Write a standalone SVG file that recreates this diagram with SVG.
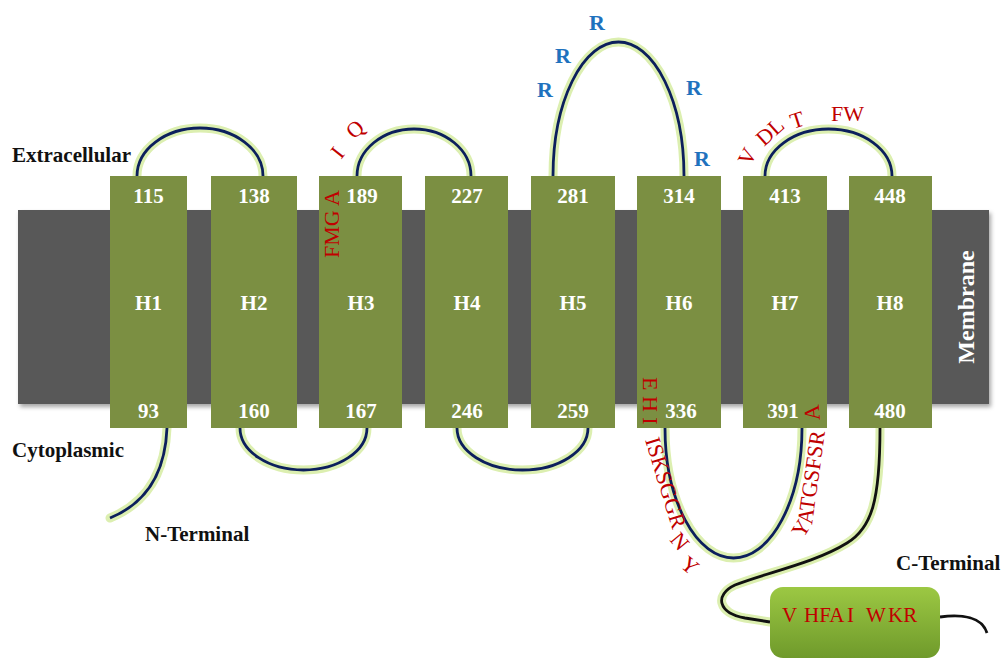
<svg xmlns="http://www.w3.org/2000/svg" width="1008" height="661" viewBox="0 0 1008 661">
<defs>
<linearGradient id="cbox" x1="0" y1="0" x2="0" y2="1">
<stop offset="0" stop-color="#9cc843"/>
<stop offset="1" stop-color="#6f9a2b"/>
</linearGradient>
<filter id="sh" x="-5%" y="-5%" width="110%" height="115%">
<feDropShadow dx="2" dy="3" stdDeviation="2" flood-color="#000" flood-opacity="0.35"/>
</filter>
</defs>
<style>
.helix{fill:#7b8f42}
.num{font-family:"Liberation Serif",serif;font-weight:bold;font-size:21px;fill:#ffffff;text-anchor:middle}
.lab{font-family:"Liberation Serif",serif;font-weight:bold;font-size:21px;fill:#111111}
.glow{fill:none;stroke:#dcefb0;stroke-width:9;stroke-linecap:round}
.line{fill:none;stroke:#0c1f5c;stroke-width:2.8}
.bline{fill:none;stroke:#111111;stroke-width:2.8}
.aa{font-family:"Liberation Serif",serif;font-size:22px;fill:#c00000;white-space:pre}
.rr{font-family:"Liberation Serif",serif;font-weight:bold;font-size:22px;fill:#1f72be}
</style>
<rect width="1008" height="661" fill="#ffffff"/>
<g id="membrane">
<rect x="18" y="210" width="971" height="194" fill="#595959" filter="url(#sh)"/>
<text x="968" y="307" class="num" transform="rotate(-90 968 307)" dominant-baseline="middle" style="font-size:24px">Membrane</text>
</g>
<g id="connectors">
<path class="glow" d="M137,176 A63,48 0 0 1 263,176"/>
<path class="line" d="M137,176 A63,48 0 0 1 263,176"/>
<path class="glow" d="M357,176 A57,47 0 0 1 471,176"/>
<path class="line" d="M357,176 A57,47 0 0 1 471,176"/>
<path class="glow" d="M553,176 A65.5,134 0 0 1 684,176"/>
<path class="line" d="M553,176 A65.5,134 0 0 1 684,176"/>
<path class="glow" d="M765,176 A63.5,47 0 0 1 892,176"/>
<path class="line" d="M765,176 A63.5,47 0 0 1 892,176"/>
<path class="glow" d="M240,428 A63.5,42 0 0 0 367,428"/>
<path class="line" d="M240,428 A63.5,42 0 0 0 367,428"/>
<path class="glow" d="M457,428 A65.5,42 0 0 0 588,428"/>
<path class="line" d="M457,428 A65.5,42 0 0 0 588,428"/>
<path class="glow" d="M665,428 A68.5,130 0 0 0 802,428"/>
<path class="line" d="M665,428 A68.5,130 0 0 0 802,428"/>
<path class="glow" d="M167,428 C165,478 142,505 110,518"/>
<path class="line" d="M167,428 C165,478 142,505 110,518"/>
<path class="glow" d="M880,428 C880,500 872,528 847,543 C815,563 765,573 735,585 C714,595 718,613 745,618 L770,622"/>
<path class="bline" d="M880,428 C880,500 872,528 847,543 C815,563 765,573 735,585 C714,595 718,613 745,618 L770,622"/>
<path class="bline" d="M940,617 C962,614 982,617 987,633"/>
</g>
<g id="H1"><rect class="helix" x="110" y="176" width="77" height="252"/>
<text class="num" x="148.5" y="203">115</text><text class="num" x="148.5" y="310">H1</text><text class="num" x="148.5" y="418">93</text></g>
<g id="H2"><rect class="helix" x="211" y="176" width="86" height="252"/>
<text class="num" x="254" y="203">138</text><text class="num" x="254" y="310">H2</text><text class="num" x="254" y="418">160</text></g>
<g id="H3"><rect class="helix" x="319" y="176" width="83" height="252"/>
<text class="num" x="362" y="203">189</text><text class="num" x="361" y="310">H3</text><text class="num" x="361" y="418">167</text></g>
<g id="H4"><rect class="helix" x="425" y="176" width="83" height="252"/>
<text class="num" x="467" y="203">227</text><text class="num" x="467" y="310">H4</text><text class="num" x="467" y="418">246</text></g>
<g id="H5"><rect class="helix" x="531" y="176" width="84" height="252"/>
<text class="num" x="573" y="203">281</text><text class="num" x="573" y="310">H5</text><text class="num" x="573" y="418">259</text></g>
<g id="H6"><rect class="helix" x="637" y="176" width="84" height="252"/>
<text class="num" x="679" y="203">314</text><text class="num" x="679" y="310">H6</text><text class="num" x="681" y="418">336</text></g>
<g id="H7"><rect class="helix" x="743" y="176" width="84" height="252"/>
<text class="num" x="785" y="203">413</text><text class="num" x="785" y="310">H7</text><text class="num" x="783" y="418">391</text></g>
<g id="H8"><rect class="helix" x="849" y="176" width="83" height="252"/>
<text class="num" x="890" y="203">448</text><text class="num" x="890" y="310">H8</text><text class="num" x="890" y="418">480</text></g>
<g id="labels">
<text class="lab" x="12" y="162">Extracellular</text>
<text class="lab" x="12" y="457">Cytoplasmic</text>
<text class="lab" x="145" y="541">N-Terminal</text>
<text class="lab" x="896" y="570">C-Terminal</text>
</g>
<g id="residues">
<text class="aa" transform="translate(339,258) rotate(-90)">FMG A</text>
<text class="aa" transform="translate(341,160) rotate(-52)">I</text>
<text class="aa" transform="translate(354,140) rotate(-42)">Q</text>
<text class="rr" x="537" y="97">R</text>
<text class="rr" x="555" y="63">R</text>
<text class="rr" x="589" y="30">R</text>
<text class="rr" x="686" y="95">R</text>
<text class="rr" x="694" y="166">R</text>
<text class="aa" transform="translate(750,167) rotate(-62)">V</text>
<text class="aa" transform="translate(764,147) rotate(-42)">DL</text>
<text class="aa" transform="translate(793,129) rotate(-18)">T</text>
<text class="aa" x="831" y="121">FW</text>
<text class="aa" transform="translate(643,377) rotate(90)">E H I</text>
<text class="aa" transform="translate(645,440) rotate(73)">ISKSGGR</text>
<text class="aa" transform="translate(669,540) rotate(50)">N</text>
<text class="aa" transform="translate(679,566) rotate(40)">Y</text>
<text class="aa" transform="translate(803,539) rotate(-58)">Y</text>
<text class="aa" transform="translate(812,525) rotate(-82)">ATGSFSR</text>
<text class="aa" transform="translate(820,420) rotate(-95)">A</text>
</g>
<g id="cterm">
<rect x="770" y="587" width="170" height="71" rx="13" fill="url(#cbox)"/>
<text class="aa" y="622" style="font-size:21px"><tspan x="782">V</tspan><tspan x="804">HFA</tspan><tspan x="847">I</tspan><tspan x="866">W</tspan><tspan x="888">KR</tspan></text>
</g>
</svg>
